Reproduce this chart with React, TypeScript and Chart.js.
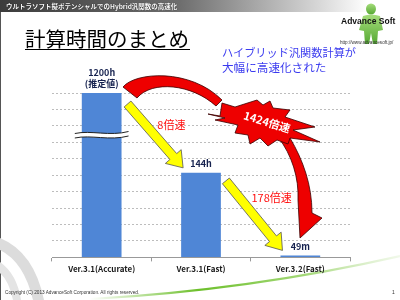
import React, { useEffect, useRef } from 'react';
import { Chart, registerables } from 'chart.js';
Chart.register(...registerables);

// ---- data ----
const categories = ['Ver.3.1(Accurate)', 'Ver.3.1(Fast)', 'Ver.3.2(Fast)'];
const hours = [1200, 144, 49 / 60];
const valueLabels = [['1200h', '(推定値)'], ['144h'], ['49m']];
const stepSpeedups = ['8倍速', '178倍速'];
const totalSpeedup = '1424倍速';
const yMax = 280;
const yStep = 28;

const JP = '"Noto Sans CJK JP", "Noto Sans", sans-serif';

function arrowPath(ctx: CanvasRenderingContext2D, x0: number, y0: number, x1: number, y1: number, sw: number, hw: number, hl: number) {
  const dx = x1 - x0, dy = y1 - y0;
  const len = Math.hypot(dx, dy);
  const ux = dx / len, uy = dy / len;
  const nx = -uy, ny = ux;
  const bx = x1 - ux * hl, by = y1 - uy * hl;
  ctx.beginPath();
  ctx.moveTo(x0 + nx * sw / 2, y0 + ny * sw / 2);
  ctx.lineTo(bx + nx * sw / 2, by + ny * sw / 2);
  ctx.lineTo(bx + nx * hw / 2, by + ny * hw / 2);
  ctx.lineTo(x1, y1);
  ctx.lineTo(bx - nx * hw / 2, by - ny * hw / 2);
  ctx.lineTo(bx - nx * sw / 2, by - ny * sw / 2);
  ctx.lineTo(x0 - nx * sw / 2, y0 - ny * sw / 2);
  ctx.closePath();
}

const starPts = [
  [-57, -8], [-45, -6], [-43, -19], [-30, -15], [-8, -22], [-2, -17], [5, -21], [8, -14],
  [25, -12], [20, -5], [50, 5], [28, 8], [55, 20], [25, 16], [23, 22], [12, 18],
  [3, 24], [-5, 16], [-15, 22], [-17, 13], [-30, 11], [-27, 3], [-50, -2], [-40, -4],
];

const annotPlugin = {
  id: 'annot',
  afterDatasetsDraw(chart: any) {
    const ctx: CanvasRenderingContext2D = chart.ctx;
    const area = chart.chartArea;
    const bars = chart.getDatasetMeta(0).data.map((el: any) => {
      const p = el.getProps(['x', 'y', 'width'], true);
      const top = Math.max(p.y, area.top);
      return { x: p.x, top, l: p.x - p.width / 2, r: p.x + p.width / 2, w: p.width };
    });
    const ox = area.left, oy = area.top;
    const P = (dx: number, dy: number): [number, number] => [ox + dx, oy + dy];

    ctx.save();
    // axis break on first bar
    {
      const cx = bars[0].x, cy = bars[0].top + 40, hw = bars[0].w / 2 + 7;
      const wave = (y: number) => {
        ctx.moveTo(cx - hw, y + 0.5);
        ctx.bezierCurveTo(cx - hw * 0.4, y - 3, cx + hw * 0.3, y + 3.5, cx + hw, y - 1.5);
      };
      ctx.beginPath();
      wave(cy);
      ctx.lineTo(cx + hw, cy + 3);
      ctx.bezierCurveTo(cx + hw * 0.3, cy + 8, cx - hw * 0.4, cy + 1.5, cx - hw, cy + 5);
      ctx.closePath();
      ctx.fillStyle = '#fff';
      ctx.fill();
      ctx.beginPath();
      wave(cy);
      ctx.moveTo(cx - hw, cy + 5);
      ctx.bezierCurveTo(cx - hw * 0.4, cy + 1.5, cx + hw * 0.3, cy + 8, cx + hw, cy + 3);
      ctx.strokeStyle = '#222';
      ctx.lineWidth = 1;
      ctx.stroke();
    }

    // yellow arrows
    ctx.fillStyle = '#ffff00';
    ctx.strokeStyle = '#555';
    ctx.lineWidth = 0.8;
    arrowPath(ctx, bars[0].r + 6, bars[0].top + 11, bars[1].l + 2, bars[1].top - 5, 9, 21, 15);
    ctx.fill(); ctx.stroke();
    arrowPath(ctx, bars[1].r + 5, bars[1].top + 8, bars[2].l + 2, bars[2].top - 5, 9, 21, 15);
    ctx.fill(); ctx.stroke();

    // red curved arrow
    ctx.fillStyle = '#ee0000';
    ctx.strokeStyle = '#3a0000';
    ctx.lineWidth = 0.8;
    ctx.beginPath();
    ctx.moveTo(...P(71, -6));
    ctx.bezierCurveTo(...P(83, -21), ...P(138, -25), ...P(170, 7));
    ctx.lineTo(...P(164, 13));
    ctx.bezierCurveTo(...P(140, -9), ...P(100, -13), ...P(85, 5));
    ctx.closePath();
    ctx.fill(); ctx.stroke();

    ctx.beginPath();
    ctx.moveTo(...P(226, 44));
    ctx.lineTo(...P(238, 45));
    ctx.bezierCurveTo(...P(251, 67), ...P(260, 92), ...P(260, 120));
    ctx.lineTo(...P(270, 125));
    ctx.lineTo(...P(248, 145));
    ctx.lineTo(...P(246, 107));
    ctx.bezierCurveTo(...P(247, 85), ...P(240, 62), ...P(226, 44));
    ctx.closePath();
    ctx.fill(); ctx.stroke();

    // starburst
    const sc = P(213, 29);
    ctx.beginPath();
    starPts.forEach(([dx, dy], i) => {
      if (i === 0) ctx.moveTo(sc[0] + dx, sc[1] + dy);
      else ctx.lineTo(sc[0] + dx, sc[1] + dy);
    });
    ctx.closePath();
    ctx.fill(); ctx.stroke();

    ctx.save();
    ctx.translate(sc[0] + 2, sc[1]);
    ctx.rotate(0.3);
    ctx.fillStyle = '#fff';
    ctx.font = `bold 11px ${JP}`;
    ctx.textAlign = 'center';
    ctx.textBaseline = 'middle';
    ctx.fillText(totalSpeedup, 0, 0);
    ctx.restore();

    // step speed-up labels
    ctx.fillStyle = '#ff1010';
    ctx.font = `11px ${JP}`;
    ctx.textAlign = 'center';
    ctx.textBaseline = 'middle';
    ctx.fillText(stepSpeedups[0], (bars[0].r + bars[1].l) / 2 + 20, bars[0].top + 32);
    ctx.fillText(stepSpeedups[1], (bars[1].r + bars[2].l) / 2 + 21, bars[1].top + 25);

    // value labels
    ctx.fillStyle = '#16224f';
    ctx.font = `bold 9px ${JP}`;
    bars.forEach((b: any, i: number) => {
      const lines = valueLabels[i];
      lines.forEach((t, j) => {
        const y = b.top - 9 - (lines.length - 1 - j) * 11;
        ctx.fillText(t, b.x, y);
      });
    });
    ctx.restore();
  },
};

export default function App() {
  const ref = useRef<HTMLCanvasElement>(null);
  useEffect(() => {
    const chart = new Chart(ref.current!, {
      type: 'bar',
      data: {
        labels: categories,
        datasets: [
          {
            data: hours,
            backgroundColor: '#4f86d6',
            barPercentage: 0.5,
            categoryPercentage: 0.8,
            minBarLength: 2,
            clip: 0,
          } as any,
        ],
      },
      options: {
        responsive: false,
        animation: false,
        devicePixelRatio: 1,
        layout: { padding: { left: 52, right: 50, top: 93, bottom: 23 } },
        plugins: { legend: { display: false }, tooltip: { enabled: false } },
        scales: {
          x: {
            grid: { display: true, drawOnChartArea: false, drawTicks: true, tickLength: 4, color: '#999' },
            border: { color: '#999' },
            ticks: { color: '#1a1a1a', padding: 3, font: { size: 8, weight: 'bold', family: JP } },
          },
          y: {
            min: 0,
            max: yMax,
            ticks: { display: false, stepSize: yStep },
            grid: { color: '#bdbdbd', drawTicks: false },
            border: { display: false, dash: [2, 2] },
          },
        },
      },
      plugins: [annotPlugin],
    });
    return () => chart.destroy();
  }, []);

  const abs = (s: React.CSSProperties): React.CSSProperties => ({ position: 'absolute', whiteSpace: 'nowrap', lineHeight: 1, margin: 0, ...s });

  return (
    <div style={{ position: 'absolute', left: 0, top: 0, width: 400, height: 300, background: '#fff', overflow: 'hidden', fontFamily: JP }}>
      <div style={abs({ left: 0, top: 0, width: 400, height: 12, background: 'linear-gradient(to right, #3c3c3c 0%, #6e6e6e 45%, #d8d8d8 80%, #ffffff 92%)' })} />
      <svg width={400} height={300} style={{ position: 'absolute', left: 0, top: 0 }}>
        <defs>
          <linearGradient id="gs" x1="0" y1="0" x2="1" y2="0">
            <stop offset="0" stopColor="#6cbf2a" stopOpacity="0" />
            <stop offset="0.35" stopColor="#6cbf2a" stopOpacity="1" />
            <stop offset="0.7" stopColor="#9ad46a" stopOpacity="0.9" />
            <stop offset="1" stopColor="#cfe9b8" stopOpacity="0.3" />
          </linearGradient>
          <linearGradient id="gf" x1="0" y1="0" x2="0" y2="1">
            <stop offset="0" stopColor="#a6dd7c" />
            <stop offset="1" stopColor="#55a832" />
          </linearGradient>
        </defs>
        <line x1={0.5} y1={12} x2={0.5} y2={300} stroke="#555" strokeWidth={1} />
        <path d="M0,238 Q34,252 44,300 L33,300 Q24,262 0,250 Z" fill="#dcdcdc" />
        <path d="M0,262 Q17,274 21,300 L13,300 Q9,281 0,273 Z" fill="#e4e4e4" />
        <path d="M90,299 Q250,290 400,256" stroke="url(#gs)" strokeWidth={2.2} fill="none" />
        <ellipse cx={371} cy={9} rx={5} ry={5.5} fill="url(#gf)" />
        <path d="M363,16 Q371,13 380,16 L383,30 L378,31 L377,44 L373,44 L371,33 L369,44 L365,44 L364,31 L359,30 Z" fill="url(#gf)" />
      </svg>
      <canvas ref={ref} width={400} height={300} style={{ position: 'absolute', left: 0, top: 0, width: 400, height: 300 }} />
      <div style={abs({ left: 6, top: 3, fontSize: 6.5, fontWeight: 700, color: '#fff', textShadow: '0 0 1px #000' })}>ウルトラソフト擬ポテンシャルでのHybrid汎関数の高速化</div>
      <div style={abs({ left: 25, top: 28, fontSize: 20.5, color: '#000' })}>計算時間のまとめ</div>
      <div style={abs({ left: 25, top: 48.5, width: 165, height: 1.6, background: '#000' })} />
      <div style={abs({ left: 222, top: 47, fontSize: 11.2, color: '#3b3bef' })}>ハイブリッド汎関数計算が</div>
      <div style={abs({ left: 222, top: 62, fontSize: 11.6, color: '#3b3bef' })}>大幅に高速化された</div>
      <div style={abs({ left: 341, top: 17, fontSize: 8.5, fontWeight: 700, color: '#111', fontFamily: '"Liberation Sans", Arial, sans-serif' })}>Advance Soft</div>
      <div style={abs({ left: 340, top: 41, fontSize: 4.6, color: '#333', fontFamily: '"Liberation Sans", Arial, sans-serif' })}>http://www.advancesoft.jp/</div>
      <div style={abs({ left: 5, top: 290.5, fontSize: 4.7, color: '#333', fontFamily: '"Liberation Sans", Arial, sans-serif' })}>Copyright (C) 2013 AdvanceSoft Corporation. All rights reserved.</div>
      <div style={abs({ left: 392, top: 289.5, fontSize: 5, color: '#333', fontFamily: '"Liberation Sans", Arial, sans-serif' })}>1</div>
    </div>
  );
}
